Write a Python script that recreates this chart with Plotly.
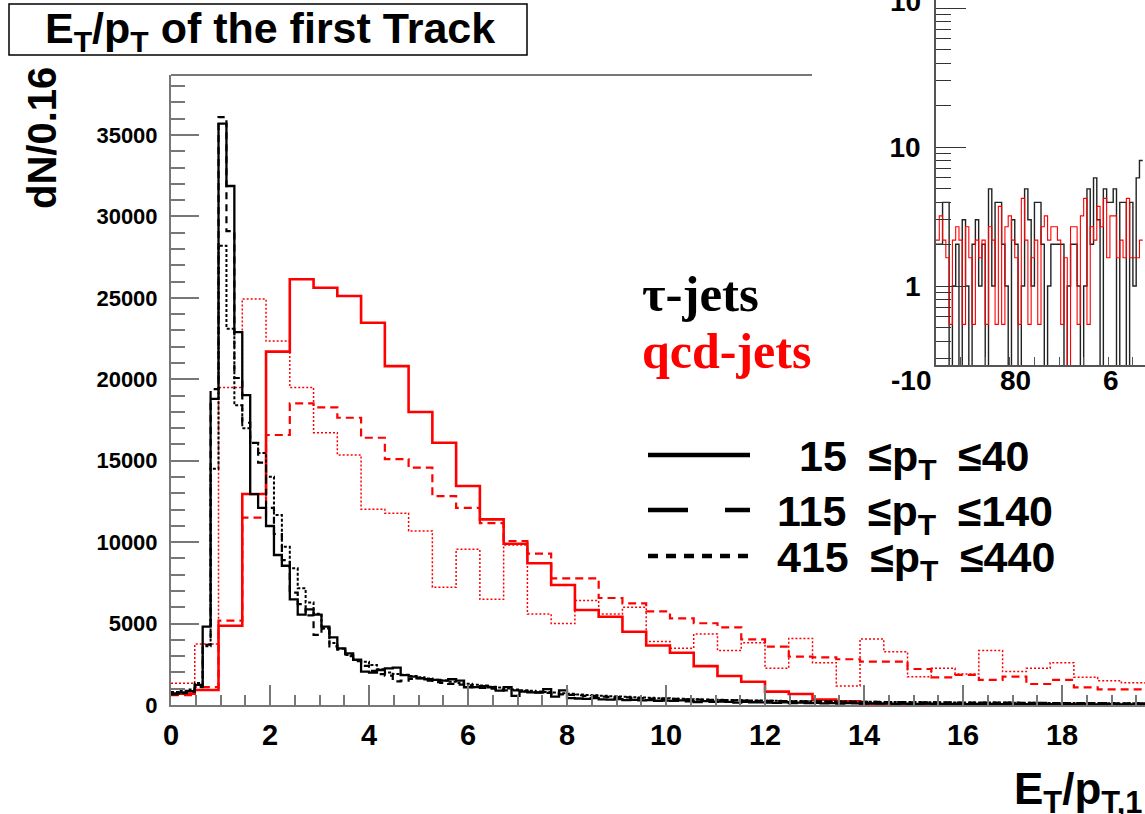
import plotly.graph_objects as go

W, H = 1145, 814

def px(x):
    return x / W

def py(y):
    return 1 - y / H

# ---------------- data ----------------
BW_TAU = 0.16   # bin width of tau-jet histograms
BW_QCD = 0.48   # bin width of qcd-jet histograms

tau_15_40 = [700, 780, 850, 1230, 4810, 18800, 35700, 31870, 22900, 19030,
             12950, 12100, 10990, 9210, 8550, 6490, 5550, 5870, 5550, 4810,
             4150, 3480, 3170, 2780, 2050, 1990, 2150, 2250, 2300, 1840,
             1740, 1640, 1580, 1540, 1500, 1580, 1500, 1090, 1100, 1150,
             1090, 880, 1100, 560, 820, 780, 760, 980, 520, 900,
             420, 400, 380, 420, 350, 330, 360, 300, 320, 280,
             300, 260, 270, 250, 280, 230, 180, 240, 200, 210,
             190, 150, 200, 170, 160, 150, 130, 170, 120, 140,
             110, 130, 100, 120, 90, 110, 100, 90, 100, 80,
             95, 70, 85, 75, 70, 80, 60, 75, 65, 60,
             55, 65, 50, 60, 55, 45, 60, 50, 40, 55,
             45, 50, 40, 45, 35, 50, 40, 35, 45, 30,
             40, 35, 30, 40, 30]

tau_115_140 = [650, 720, 800, 1100, 3700, 19400, 36100, 29100, 20080, 17330,
               16090, 14880, 12100, 10500, 8900, 6900, 6200, 5500, 4300, 4700,
               3600, 3400, 3000, 2700, 2400, 2100, 1900, 1800, 1450, 1500,
               1600, 1650, 1500, 1400, 1350, 1300, 1250, 1200, 1100, 1050,
               1000, 950, 900, 900, 850, 800, 780, 750, 700, 650,
               620, 600, 560, 560, 520, 500, 480, 470, 440, 420,
               400, 400, 380, 370, 350, 340, 330, 320, 300, 300,
               290, 280, 270, 260, 260, 250, 240, 240, 230, 230,
               220, 220, 210, 210, 200, 200, 200, 190, 190, 190,
               180, 180, 180, 170, 170, 170, 160, 160, 160, 150,
               150, 150, 150, 140, 140, 140, 140, 130, 130, 130,
               130, 120, 120, 120, 120, 110, 110, 110, 110, 100,
               100, 100, 100, 100, 95]

tau_415_440 = [800, 880, 950, 1350, 3600, 14500, 28200, 23100, 18400, 17000,
               16090, 15470, 14020, 11670, 9720, 8390, 7170, 6300, 5600, 4700,
               3800, 3450, 3070, 2760, 2660, 2450, 2200, 2000, 1900, 1850,
               1780, 1700, 1620, 1550, 1500, 1420, 1350, 1300, 1250, 1200,
               1120, 1080, 1020, 950, 900, 880, 830, 800, 760, 720,
               690, 650, 620, 600, 570, 540, 520, 500, 480, 460,
               440, 420, 410, 390, 380, 360, 350, 340, 330, 320,
               310, 300, 290, 280, 270, 260, 260, 250, 240, 240,
               230, 230, 220, 220, 210, 210, 200, 200, 200, 190,
               190, 190, 180, 180, 180, 170, 170, 170, 160, 160,
               160, 160, 150, 150, 150, 150, 140, 140, 140, 140,
               130, 130, 130, 130, 120, 120, 120, 120, 110, 110,
               110, 110, 100, 100, 100]

qcd_15_40 = [700, 920, 4870, 12960, 21700, 26140, 25620, 25110, 23470, 20810,
             17990, 16100, 13450, 11400, 9900, 8700, 7370, 5830, 5420, 4500,
             3650, 3210, 2390, 1780, 1430, 820, 680, 330, 230, 80,
             50, 30, 20, 10, 10, 5, 5, 0, 0, 0, 0, 0]

qcd_115_140 = [600, 1100, 5180, 11500, 16580, 18520, 18280, 17640, 16410, 15100,
               14570, 12830, 12110, 11170, 10070, 9300, 7780, 7780, 6570, 6240,
               5750, 5320, 5020, 4770, 4030, 3580, 2970, 2930, 2810, 2660,
               2660, 2210, 1700, 1850, 1540, 1740, 1290, 1540, 1080, 960,
               960, 950]

qcd_415_440 = [1330, 3740, 19500, 24930, 22350, 19500, 16720, 15350, 12020, 11770,
               10680, 7230, 9560, 6490, 9820, 5590, 5010, 6410, 5590, 6000,
               3900, 3480, 4360, 3340, 3830, 2250, 4090, 2600, 1170, 4050,
               3270, 1740, 2250, 1910, 3340, 2050, 2250, 2600, 1700, 1490,
               1370, 1300]

# inset (log scale) histograms
INSET_X0 = -100
INSET_BW = 0.667
inset_tau = [2, 2, 4, 4, 0, 1, 2, 0, 3, 1,
             0, 2, 3, 1, 2, 0, 5, 1, 4, 4,
             2, 1, 0, 3, 2, 0, 1, 5, 3, 1,
             4, 4, 2, 0, 1, 2, 2, 2, 2, 0,
             1, 2, 2, 1, 0, 1, 5, 2, 6, 3,
             0, 5, 4, 4, 5, 0, 4, 4, 0, 4,
             1, 6, 8]
inset_qcd = [2.14, 3.2, 2.14, 1.6, 0.53, 2.14, 2.67, 2.14, 0.53, 2.67,
             1.6, 0.53, 2.14, 1.6, 2.14, 0.53, 2.67, 2.14, 0.53, 3.74,
             0.53, 2.67, 3.2, 2.14, 1.6, 0.53, 4.27, 2.14, 0.53, 1.6,
             2.14, 0.53, 2.67, 3.2, 2.14, 2.67, 2.67, 2.14, 0.53, 1.6,
             0, 2.67, 2.67, 0.53, 3.2, 4.27, 0.53, 2.67, 2.14, 3.74,
             2.67, 4.27, 1.6, 3.2, 3.2, 1.6, 2.14, 1.6, 4.27, 1.6,
             1.6, 1.6, 2.14]

main_yticks = [0, 5000, 10000, 15000, 20000, 25000, 30000, 35000]
main_xticks = [0, 2, 4, 6, 8, 10, 12, 14, 16, 18]
inset_yticks = [1, 10, 100]
inset_yticktext = ["1", "10", ""]
inset_top_label = "10<sup>2</sup>"

SP = "\u2002"
legend_labels = ["15" + SP + "\u2264p<sub>T</sub>" + SP + "\u226440",
                 "115" + SP + "\u2264p<sub>T</sub>" + SP + "\u2264140",
                 "415" + SP + "\u2264p<sub>T</sub>" + SP + "\u2264440"]

# ---------------- figure ----------------
SANS = "Liberation Sans"
SERIF = "Liberation Serif"
RED = "#ff0000"


def hist_xy(vals, bw, x0=0.0):
    xs = [x0 + i * bw for i in range(len(vals) + 1)]
    ys = list(vals) + [vals[-1]]
    return xs, ys


fig = go.Figure()

styles = [
    (qcd_415_440, BW_QCD, RED, 1.5, "2px,2px"),
    (qcd_115_140, BW_QCD, RED, 2.2, "8px,5px"),
    (qcd_15_40, BW_QCD, RED, 2.6, "solid"),
    (tau_415_440, BW_TAU, "black", 2.0, "3px,2px"),
    (tau_115_140, BW_TAU, "black", 2.2, "7px,5px"),
    (tau_15_40, BW_TAU, "black", 2.3, "solid"),
]
for vals, bw, col, wid, dash in styles:
    xs, ys = hist_xy(vals, bw)
    fig.add_trace(go.Scatter(x=xs, y=ys, mode="lines", line_shape="hv",
                             line=dict(color=col, width=wid, dash=dash),
                             showlegend=False, hoverinfo="skip",
                             xaxis="x", yaxis="y"))

# inset
FLOOR = 0.05
for vals, col, wid in [(inset_tau, "#222222", 1.4), (inset_qcd, RED, 1.1)]:
    xs, ys = hist_xy(vals, INSET_BW, INSET_X0)
    ys = [v if v > 0 else FLOOR for v in ys]
    fig.add_trace(go.Scatter(x=xs, y=ys, mode="lines", line_shape="hv",
                             line=dict(color=col, width=wid),
                             showlegend=False, hoverinfo="skip",
                             xaxis="x2", yaxis="y2"))

AX = "#777777"
fig.update_layout(
    width=W, height=H,
    margin=dict(l=0, r=0, t=0, b=0, autoexpand=False),
    paper_bgcolor="white", plot_bgcolor="rgba(0,0,0,0)",
    showlegend=False,
    xaxis=dict(domain=[px(171), 1], range=[0, (W - 171) / 49.5], automargin=False,
               showgrid=False, zeroline=False, showline=True, linecolor=AX, linewidth=2,
               ticks="inside", tickvals=main_xticks, ticklen=20, tickwidth=1.5, tickcolor=AX,
               minor=dict(dtick=0.5, tick0=0, ticks="inside", ticklen=10, tickwidth=1.5,
                          tickcolor=AX, showgrid=False),
               tickfont=dict(family=SANS, size=29, color="black", weight="bold"),
               ticklabelstandoff=3),
    yaxis=dict(domain=[py(705), py(75)], range=[0, 38685], automargin=False,
               showgrid=False, zeroline=False, showline=True, linecolor=AX, linewidth=2,
               ticks="inside", tickvals=main_yticks, ticklen=28, tickwidth=1.5, tickcolor=AX,
               minor=dict(dtick=1000, tick0=0, ticks="inside", ticklen=14, tickwidth=1.5,
                          tickcolor=AX, showgrid=False),
               tickformat="d",
               tickfont=dict(family=SANS, size=22, color="black", weight="bold"),
               ticklabelstandoff=7),
    xaxis2=dict(domain=[px(936), 1], range=[INSET_X0, INSET_X0 + (W - 936) / 4.92],
                anchor="y2", automargin=False, showgrid=False, zeroline=False, showline=True,
                linecolor="#555555", linewidth=1.5,
                ticks="inside", tick0=INSET_X0, dtick=5, ticklen=8, tickcolor="#555555",
                showticklabels=False),
    yaxis2=dict(domain=[py(365), 1], type="log", range=[-0.568, 2.058],
                anchor="x2", automargin=False, showgrid=False, zeroline=False, showline=True,
                linecolor="#555555", linewidth=1.5,
                ticks="inside", tickvals=inset_yticks, ticktext=inset_yticktext,
                ticklen=30, tickcolor="#333333",
                minor=dict(tickvals=[0.3, 0.4, 0.5, 0.6, 0.7, 0.8, 0.9,
                                     2, 3, 4, 5, 6, 7, 8, 9,
                                     20, 30, 40, 50, 60, 70, 80, 90],
                           ticks="inside", ticklen=15, tickcolor="#333333", showgrid=False),
                tickfont=dict(family=SANS, size=28, color="black", weight="bold"),
                ticklabelstandoff=8),
)

shapes = []
# title box
shapes.append(dict(type="rect", xref="paper", yref="paper",
                   x0=px(9), x1=px(527), y0=py(55), y1=py(4),
                   line=dict(color="black", width=1.5), fillcolor="white", layer="below"))
# top frame line of main pad (stops at inset pad)
shapes.append(dict(type="line", xref="paper", yref="paper",
                   x0=px(171), x1=px(812), y0=py(75), y1=py(75),
                   line=dict(color=AX, width=2)))
# legend line samples
for yy, dash in [(455, "solid"), (510, "40px,37px"), (556, "10px,8px")]:
    shapes.append(dict(type="line", xref="paper", yref="paper",
                       x0=px(648), x1=px(750), y0=py(yy), y1=py(yy),
                       line=dict(color="black", width=4.5, dash=dash)))
fig.update_layout(shapes=shapes)

ann = []
ann.append(dict(text="E<sub>T</sub>/p<sub>T</sub> of the first Track", x=px(43), y=py(31),
                xref="paper", yref="paper", showarrow=False, xanchor="left", yanchor="middle",
                font=dict(family=SANS, size=43, color="black", weight="bold")))
ann.append(dict(text="dN/0.16", x=px(42), y=py(138), xref="paper", yref="paper",
                showarrow=False, textangle=-90, xanchor="center", yanchor="middle",
                font=dict(family=SANS, size=40, color="black", weight="bold")))
ann.append(dict(text="E<sub>T</sub>/p<sub>T,1</sub>", x=px(1012), y=py(792),
                xref="paper", yref="paper", showarrow=False, xanchor="left", yanchor="middle",
                font=dict(family=SANS, size=44, color="black", weight="bold")))
ann.append(dict(text="\u03c4-jets", x=px(640), y=py(294), xref="paper", yref="paper",
                showarrow=False, xanchor="left", yanchor="middle",
                font=dict(family=SERIF, size=51, color="black", weight="bold")))
ann.append(dict(text="qcd-jets", x=px(640), y=py(351), xref="paper", yref="paper",
                showarrow=False, xanchor="left", yanchor="middle",
                font=dict(family=SERIF, size=50, color=RED, weight="bold")))
for (xx, yy), lab in zip([(797, 459), (775, 514), (775, 560)], legend_labels):
    ann.append(dict(text=lab, x=px(xx), y=py(yy), xref="paper", yref="paper",
                    showarrow=False, xanchor="left", yanchor="middle",
                    font=dict(family=SANS, size=43, color="black", weight="bold")))
# inset y top label (cut at the top edge in the original)
ann.append(dict(text=inset_top_label, x=px(934), y=py(19), xref="paper", yref="paper",
                showarrow=False, xanchor="right", yanchor="bottom",
                font=dict(family=SANS, size=28, color="black", weight="bold")))
# inset x tick labels (clipped in the original)
for xx, lab in [(933, "-10"), (1015, "80"), (1111, "6")]:
    ann.append(dict(text=lab, x=px(xx), y=py(380), xref="paper", yref="paper",
                    showarrow=False, xanchor="right" if lab == "-10" else "center",
                    yanchor="middle",
                    font=dict(family=SANS, size=28, color="black", weight="bold")))
fig.update_layout(annotations=ann)

fig.write_html("out.html")
